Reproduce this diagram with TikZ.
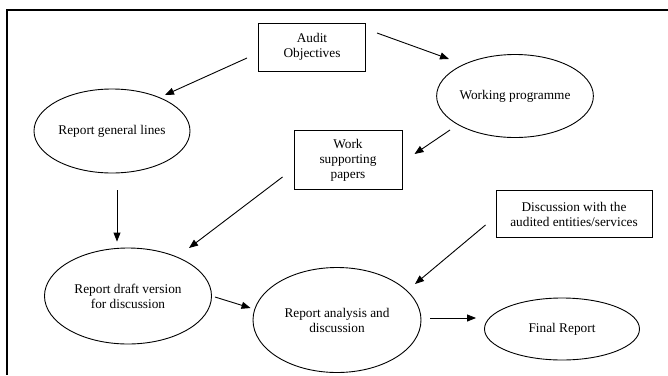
\documentclass[tikz,border=0pt]{standalone}
\usepackage{fontspec}
\setmainfont{Liberation Serif}
\usetikzlibrary{shapes.geometric,arrows.meta}
\tikzset{
  every node/.style={font=\fontsize{13.3}{15}\selectfont, align=center, inner sep=0pt},
  boxnode/.style={draw, line width=1pt, rectangle},
  ellnode/.style={draw, line width=0.9pt, ellipse},
  arr/.style={line width=0.9pt, -{Triangle[length=9pt,width=7pt]}},
  frameline/.style={line width=1.3pt}
}
\begin{document}
\begin{tikzpicture}[x=1pt,y=-1pt]
\useasboundingbox (0,0) rectangle (668,375);
\coordinate (fa) at (668,10);
\coordinate (fb) at (7,10);
\coordinate (fc) at (7,375);
\draw[frameline] (fa) -- (fb) -- (fc);

\node[boxnode, minimum width=107pt, minimum height=48pt] (ao) at (312,47) {Audit\\Objectives};
\node[ellnode, minimum width=154pt, minimum height=83pt] (wp) at (515,96) {Working programme};
\node[ellnode, minimum width=156pt, minimum height=84pt] (rgl) at (112,131) {Report general lines};
\node[boxnode, minimum width=108pt, minimum height=59pt] (wsp) at (348,160) {Work\\supporting\\papers};
\node[ellnode, minimum width=167pt, minimum height=96pt] (rdv) at (128,296) {Report draft version\\for discussion};
\node[ellnode, minimum width=168pt, minimum height=105pt] (rad) at (337,320) {Report analysis and\\discussion};
\node[ellnode, minimum width=155pt, minimum height=62pt] (fr) at (562,329) {Final Report};
\node[boxnode, minimum width=156pt, minimum height=47pt] (dis) at (574,214) {Discussion with the\\audited entities/services};

\draw[arr] ([shift={(-11,11)}]ao.west) -- ([shift={(53,-36)}]rgl.center);
\draw[arr] ([shift={(11,-14)}]ao.east) -- ([shift={(-66,-37)}]wp.center);
\draw[arr] ([shift={(-65,34)}]wp.center) -- ([shift={(12,-6)}]wsp.east);
\draw[arr] ([shift={(-11,17)}]wsp.west) -- ([shift={(61,-48)}]rdv.center);
\draw[arr] ([shift={(5,17)}]rgl.south) -- ([shift={(-11,-6)}]rdv.north);
\draw[arr] ([shift={(3,1)}]rdv.east) -- ([shift={(-2,-12)}]rad.west);
\draw[arr] ([shift={(-10,11)}]dis.west) -- ([shift={(78,-36)}]rad.center);
\draw[arr] ([shift={(9,-2)}]rad.east) -- ([shift={(-8,-11)}]fr.west);
\end{tikzpicture}
\end{document}
